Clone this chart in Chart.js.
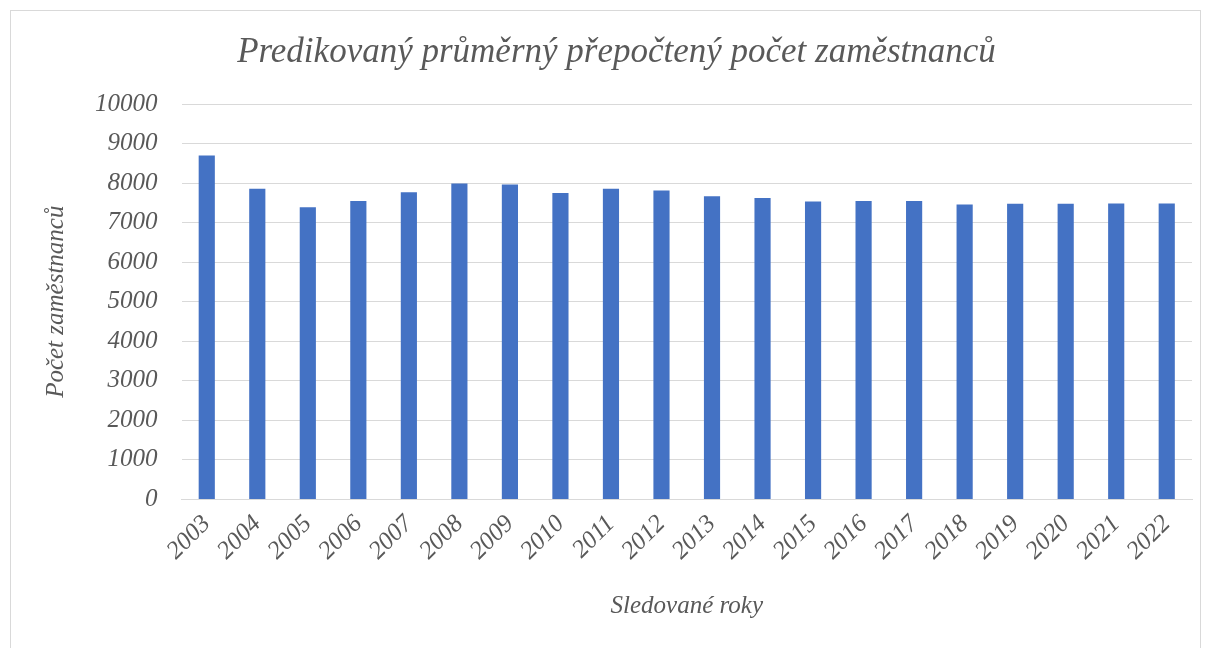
<!DOCTYPE html>
<html><head><meta charset="utf-8">
<script src="https://cdn.jsdelivr.net/npm/chart.js@4/dist/chart.umd.min.js"></script>
<style>html,body{margin:0;padding:0;background:#fff}#wrap{position:absolute;left:0;top:0;width:1209px;height:648px}</style>
</head><body><div id="wrap"><canvas id="c" width="1209" height="648"></canvas></div>
<script>
const years = ["2003","2004","2005","2006","2007","2008","2009","2010","2011","2012","2013","2014","2015","2016","2017","2018","2019","2020","2021","2022"];
const employees = [8695,7855,7390,7550,7770,7990,7965,7750,7855,7812,7670,7620,7535,7550,7550,7460,7475,7475,7482,7482];
const chartTitle = "Predikovaný průměrný přepočtený počet zaměstnanců";
const yTitle = "Počet zaměstnanců";
const xTitle = "Sledované roky";
const yMax = 10000, yStep = 1000;

const border = {id:'border', beforeDraw(ch){const c=ch.ctx;c.save();c.strokeStyle='#d9d9d9';c.lineWidth=1;c.strokeRect(10.5,10.5,1190,650);c.restore();}};
const font = 'Liberation Serif';
new Chart(document.getElementById('c'), {
  type:'bar',
  data:{labels:years, datasets:[{data:employees, backgroundColor:'#4472c4', categoryPercentage:1, barPercentage:0.32}]},
  options:{responsive:false, animation:false, devicePixelRatio:1,
    layout:{padding:{left:41,right:17,top:28,bottom:23}},
    plugins:{legend:{display:false}, tooltip:{enabled:false},
      title:{display:true, text:chartTitle, color:'#595959', font:{family:font, size:35, style:'italic', weight:'normal'}, padding:{top:4,bottom:30}}},
    scales:{
      x:{grid:{display:false}, border:{display:true,color:'#d9d9d9'},
        ticks:{color:'#595959', font:{family:font,size:25,style:'italic'}, minRotation:45, maxRotation:45, padding:2},
        title:{display:true,text:xTitle,color:'#595959',font:{family:font,size:25,style:'italic'},padding:{top:23}}},
      y:{min:0,max:yMax, grid:{color:'#d9d9d9', drawTicks:false}, border:{display:false},
        ticks:{stepSize:yStep, color:'#595959', font:{family:font,size:25,style:'italic'}, padding:24, callback:v=>String(v)},
        title:{display:true,text:yTitle,color:'#595959',font:{family:font,size:25,style:'italic'},padding:{top:0,bottom:0}}}
    }},
  plugins:[border]
});
</script></body></html>
